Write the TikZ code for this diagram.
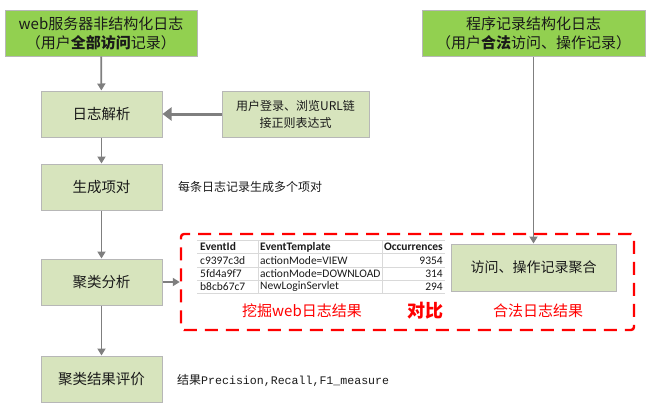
\documentclass[tikz,border=0pt]{standalone}
\usepackage{fontspec}
\setmainfont{Noto Sans CJK SC}
\newfontfamily\tblfont{Carlito}
\newfontfamily\monofont{Liberation Mono}
\usetikzlibrary{arrows.meta}
\definecolor{darkgreen}{HTML}{92D050}
\definecolor{lightgreen}{HTML}{D7E4BD}
\definecolor{boxborder}{HTML}{B7B7B7}
\definecolor{arrowgray}{HTML}{7F7F7F}
\definecolor{txt}{HTML}{1A1A1A}
\definecolor{tline}{HTML}{D9D9D9}
\tikzset{
  topbox/.style={draw=boxborder, line width=1pt, fill=darkgreen, text=txt, align=center,
    inner sep=0pt, font=\fontsize{15}{19}\selectfont},
  stepbox/.style={draw=boxborder, line width=1pt, fill=lightgreen, text=txt, align=center,
    inner sep=0pt, minimum width=121pt, minimum height=46pt, font=\fontsize{14.5}{18}\selectfont},
  flow/.style={draw=arrowgray, line width=1.8pt, -{Triangle[length=7pt,width=8pt]}},
  bigflow/.style={draw=arrowgray, line width=3pt, -{Triangle[length=9pt,width=13pt]}},
  note/.style={anchor=west, inner sep=0pt, text=txt, font=\fontsize{12}{14}\selectfont},
  tcell/.style={inner sep=0pt, text=txt, font=\tblfont\fontsize{11.5}{12}\selectfont},
  tcellb/.style={tcell, font=\tblfont\bfseries\fontsize{11.5}{12}\selectfont},
  redlbl/.style={text=red, inner sep=0pt, font=\fontsize{15}{17}\selectfont},
}
\begin{document}
\begin{tikzpicture}[x=1pt,y=-1pt]
\useasboundingbox (0,0) rectangle (657,410);
% top boxes
\node[topbox, minimum width=192pt, minimum height=46pt] (web) at (101,33)
  {web服务器非结构化日志\\（用户\textbf{全部访问}记录）};
\node[topbox, minimum width=223pt, minimum height=46pt] (prog) at (533.5,33)
  {程序记录结构化日志\\（用户\textbf{合法}访问、操作记录）};
% flow boxes
\node[stepbox] (parse) at (101.5,114) {日志解析};
\node[stepbox, minimum width=147pt, font=\fontsize{12}{17}\selectfont] (login) at (295.5,114)
  {用户登录、浏览URL链\\接正则表达式};
\node[stepbox] (pair) at (101.5,187) {生成项对};
\node[stepbox] (cluster) at (101.5,282) {聚类分析};
\node[stepbox] (eval) at (101.5,379) {聚类结果评价};
% notes
\node[note] (pairnote) at (178,187) {每条日志记录生成多个项对};
\node[note] (evalnote) at (177,380) {结果{\monofont\fontsize{11.6}{14}\selectfont Precision,Recall,F1\_measure}};
% comparison frame
\node[draw=red, line width=2.4pt, dash pattern=on 13pt off 8pt, rounded corners=3pt,
  minimum width=453pt, minimum height=96pt, inner sep=0pt] (cmp) at (407.5,282) {};
% aggregate box
\node[stepbox, minimum width=165pt, minimum height=47pt, font=\fontsize{14}{18}\selectfont] (agg) at (533.5,267.5)
  {访问、操作记录聚合};
% table
\foreach \yy in {240,253.5,267,280,293}{
  \draw[tline, line width=0.7pt] (197,\yy) -- (445,\yy);
}
\draw[tline, line width=0.7pt] (258,240) -- (258,293);
\draw[tline, line width=0.7pt] (382,240) -- (382,293);
\node[tcellb, anchor=west] (h1) at (200,247) {EventId};
\node[tcellb, anchor=west] (h2) at (260,247) {EventTemplate};
\node[tcellb, anchor=east] (h3) at (443,247) {Occurrences};
\node[tcell, anchor=west] (r1a) at (200,260.5) {c9397c3d};
\node[tcell, anchor=west] (r1b) at (260,260.5) {actionMode=VIEW};
\node[tcell, anchor=east] (r1c) at (443,260.5) {9354};
\node[tcell, anchor=west] (r2a) at (200,273.5) {5fd4a9f7};
\node[tcell, anchor=west] (r2b) at (260,273.5) {actionMode=DOWNLOAD};
\node[tcell, anchor=east] (r2c) at (443,273.5) {314};
\node[tcell, anchor=west] (r3a) at (200,286.5) {b8cb67c7};
\node[tcell, anchor=west] (r3b) at (260,286.5) {NewLoginServlet};
\node[tcell, anchor=east] (r3c) at (443,286.5) {294};
% red labels
\node[redlbl] (mine) at (302,311) {挖掘web日志结果};
\node[redlbl, font=\bfseries\fontsize{18}{20}\selectfont] (vs) at (425,311) {对比};
\node[redlbl] (legal) at (538,311) {合法日志结果};
% connectors
\draw[flow] (web) -- (parse);
\draw[flow] (parse) -- (pair);
\draw[flow] (pair) -- (cluster);
\draw[flow] (cluster) -- (eval);
\draw[bigflow] (login) -- (parse);
\draw[flow] (cluster) -- (cmp.west);
\draw[flow] (prog) -- (agg);
\end{tikzpicture}
\end{document}
